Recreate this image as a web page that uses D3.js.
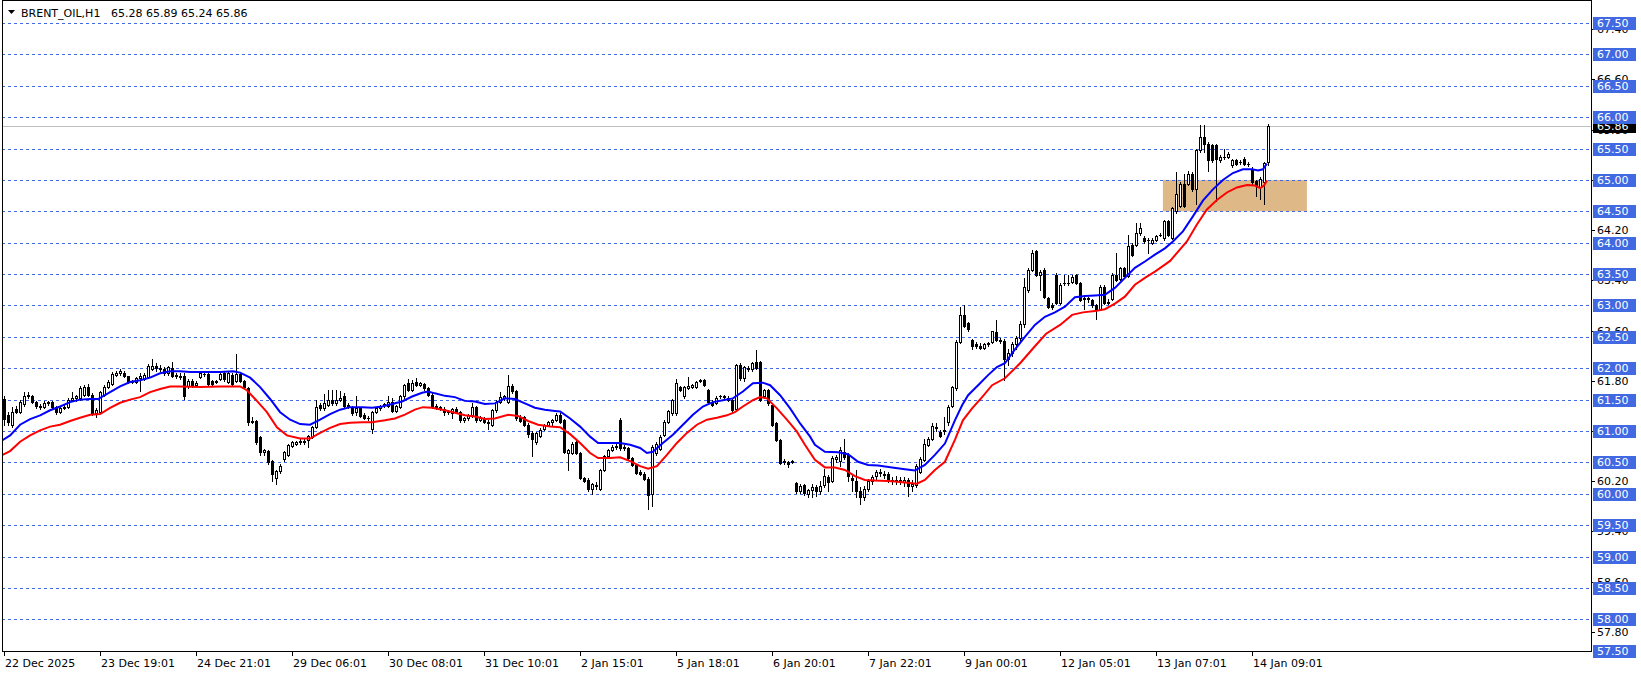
<!DOCTYPE html>
<html><head><meta charset="utf-8">
<script src="https://cdn.jsdelivr.net/npm/d3@7"></script>
<style>
html,body{margin:0;padding:0;background:#fff;}
svg{display:block;}
text{font-family:"DejaVu Sans",sans-serif;font-size:11px;}
</style></head><body>
<svg id="chart" width="1641" height="675"></svg>
<script>
// ---------------- DATA ----------------
const symbolName = "BRENT_OIL,H1";
const lastOHLC = ["65.28", "65.89", "65.24", "65.86"];
const lastPrice = 65.86;

const opens = [
61.51,61.25,61.09,61.35,61.30,61.43,61.58,61.55,61.46,61.40,
61.38,61.45,61.46,61.38,61.30,61.37,61.39,61.50,61.52,61.52,
61.58,61.70,61.57,61.28,61.30,61.58,61.70,61.75,61.90,61.92,
61.93,61.87,61.80,61.78,61.84,61.83,61.86,61.99,62.04,62.00,
61.99,61.92,62.00,61.90,61.88,61.88,61.72,61.80,61.74,61.86,
61.91,61.91,61.80,61.78,61.83,61.93,61.78,61.90,61.80,61.91,
61.80,61.68,61.14,61.16,60.90,60.66,60.68,60.52,60.25,60.36,
60.55,60.62,60.76,60.80,60.82,60.84,60.86,60.91,61.07,61.41,
61.36,61.42,61.50,61.44,61.50,61.55,61.42,61.38,61.30,61.36,
61.26,61.21,61.03,61.30,61.36,61.41,61.40,61.47,61.32,61.38,
61.55,61.76,61.66,61.78,61.74,61.75,61.68,61.58,61.40,61.37,
61.35,61.30,61.28,61.35,61.30,61.17,61.20,61.25,61.38,61.18,
61.20,61.15,61.10,61.33,61.47,61.53,61.47,61.72,61.63,61.22,
61.22,61.10,60.97,60.82,60.92,61.03,61.10,61.14,61.18,61.26,
61.17,60.65,60.65,60.83,60.65,60.25,60.22,60.08,60.14,60.08,
60.38,60.60,60.70,60.75,61.18,60.75,60.73,60.57,60.46,60.35,
60.32,60.24,60.00,60.65,60.72,60.94,61.15,61.28,61.28,61.70,
61.55,61.69,61.70,61.70,61.80,61.81,61.65,61.47,61.45,61.55,
61.54,61.52,61.50,61.35,62.05,61.84,62.00,61.98,62.10,62.10,
61.55,61.65,61.41,61.12,60.86,60.50,60.50,60.52,60.17,60.04,
60.14,60.00,60.06,60.10,60.05,60.14,60.26,60.20,60.55,60.52,
60.67,60.62,60.25,60.20,60.05,59.95,60.08,60.20,60.28,60.35,
60.30,60.32,60.22,60.21,60.22,60.18,60.22,60.12,60.14,60.35,
60.54,60.78,60.87,61.04,60.99,61.00,61.15,61.40,61.68,62.42,
62.85,62.72,62.45,62.38,62.36,62.33,62.38,62.42,62.58,62.44,
62.44,62.15,62.25,62.38,62.48,62.70,63.25,63.57,63.86,63.48,
63.57,63.12,63.00,63.49,63.04,63.35,63.36,63.38,63.48,63.36,
63.10,63.10,63.08,63.00,62.95,63.30,63.06,63.10,63.49,63.42,
63.60,63.47,63.97,63.97,64.15,64.07,64.04,64.00,64.05,64.13,
64.07,64.34,64.08,64.50,64.59,64.94,64.94,65.10,64.85,65.47,
65.69,65.58,65.55,65.55,65.31,65.37,65.37,65.23,65.32,65.28,
65.34,65.26,65.18,64.98,64.88,64.96,65.28];

const highs = [
61.55,61.30,61.38,61.40,61.50,61.62,61.62,61.58,61.48,61.43,
61.48,61.48,61.48,61.40,61.40,61.42,61.52,61.62,61.58,61.72,
61.74,61.75,61.60,61.36,61.64,61.74,61.82,61.94,61.96,61.98,
61.96,61.88,61.82,61.86,61.92,61.92,62.06,62.15,62.08,62.05,
62.02,62.04,62.10,61.92,61.92,61.92,61.83,61.83,61.80,61.96,
61.95,61.93,61.82,61.82,61.93,61.95,61.95,61.93,62.22,61.93,
61.82,61.70,61.22,61.18,60.92,60.72,60.70,60.54,60.38,60.48,
60.68,60.80,60.84,60.84,60.88,60.88,60.94,61.08,61.49,61.44,
61.59,61.65,61.66,61.66,61.63,61.60,61.44,61.40,61.55,61.38,
61.28,61.24,61.32,61.38,61.42,61.45,61.55,61.52,61.42,61.57,
61.75,61.83,61.82,61.85,61.78,61.77,61.70,61.60,61.43,61.40,
61.39,61.34,61.37,61.38,61.32,61.22,61.27,61.45,61.40,61.24,
61.22,61.18,61.35,61.49,61.62,61.58,61.89,61.75,61.66,61.26,
61.24,61.12,61.00,60.99,61.04,61.11,61.16,61.19,61.28,61.28,
61.19,60.72,60.83,60.86,60.67,60.27,60.25,60.17,60.18,60.40,
60.62,60.72,60.77,60.79,61.20,60.78,60.75,60.59,60.48,60.38,
60.34,60.26,60.78,60.82,60.93,61.17,61.34,61.51,61.83,61.72,
61.72,61.86,61.75,61.80,61.83,61.83,61.67,61.49,61.55,61.58,
61.57,61.55,61.52,62.07,62.08,62.04,62.04,62.10,62.29,62.12,
61.67,61.67,61.43,61.14,60.88,60.55,60.52,60.54,60.19,60.15,
60.16,60.08,60.15,60.14,60.20,60.40,60.30,60.60,60.62,60.75,
60.88,60.65,60.30,60.38,60.10,60.12,60.24,60.30,60.38,60.40,
60.36,60.34,60.26,60.28,60.26,60.26,60.25,60.22,60.48,60.58,
60.88,60.90,61.12,61.12,61.02,61.23,61.41,61.72,62.45,62.98,
63.00,62.74,62.47,62.42,62.40,62.40,62.42,62.60,62.77,62.48,
62.46,62.30,62.42,62.52,62.75,63.44,63.60,63.89,63.88,63.56,
63.59,63.14,63.04,63.52,63.36,63.49,63.48,63.48,63.50,63.38,
63.14,63.14,63.10,63.02,63.32,63.32,63.10,63.51,63.83,63.62,
63.62,64.13,64.00,64.31,64.32,64.10,64.08,64.08,64.12,64.16,
64.36,64.36,64.57,65.12,64.96,65.10,65.15,65.12,65.49,65.88,
65.88,65.60,65.57,65.57,65.39,65.50,65.44,65.34,65.34,65.31,
65.36,65.29,65.20,65.00,65.04,65.29,65.89];

const lows = [
61.10,61.10,61.06,61.28,61.28,61.40,61.53,61.44,61.36,61.35,
61.36,61.42,61.36,61.27,61.28,61.35,61.37,61.48,61.48,61.50,
61.55,61.55,61.25,61.22,61.28,61.55,61.68,61.73,61.87,61.90,
61.86,61.76,61.76,61.76,61.64,61.81,61.84,61.97,61.96,61.96,
61.90,61.90,61.86,61.85,61.83,61.51,61.68,61.70,61.72,61.84,
61.88,61.73,61.72,61.76,61.82,61.80,61.76,61.73,61.78,61.78,
61.68,61.10,61.12,60.80,60.62,60.62,60.48,60.20,60.16,60.33,
60.52,60.60,60.74,60.78,60.80,60.80,60.74,60.89,61.05,61.33,
61.34,61.40,61.42,61.42,61.48,61.38,61.36,61.26,61.26,61.22,
61.19,61.18,60.97,61.28,61.34,61.39,61.38,61.30,61.30,61.36,
61.53,61.64,61.64,61.71,61.72,61.66,61.55,61.37,61.35,61.34,
61.26,61.27,61.20,61.28,61.15,61.15,61.18,61.23,61.15,61.16,
61.13,61.03,61.08,61.31,61.45,61.50,61.45,61.60,61.18,61.14,
61.08,60.90,60.60,60.80,60.90,61.01,61.08,61.10,61.16,61.13,
60.65,60.38,60.63,60.63,60.23,60.18,60.05,60.00,60.08,60.06,
60.36,60.58,60.68,60.72,60.70,60.70,60.55,60.44,60.31,60.30,
60.22,59.75,59.80,60.62,60.70,60.92,61.13,61.26,61.25,61.63,
61.53,61.67,61.68,61.68,61.78,61.71,61.45,61.40,61.43,61.53,
61.52,61.48,61.30,61.32,61.82,61.80,61.96,61.96,61.98,61.48,
61.53,61.42,61.08,60.84,60.47,60.48,60.42,60.49,60.02,60.02,
59.98,59.95,59.95,59.96,60.00,60.10,60.05,60.18,60.50,60.45,
60.55,60.20,60.05,59.95,59.83,59.90,60.04,60.16,60.22,60.28,
60.25,60.18,60.15,60.16,60.15,60.12,59.97,60.05,60.10,60.33,
60.52,60.76,60.85,61.00,60.90,60.96,61.10,61.38,61.66,62.40,
62.66,62.60,62.30,62.32,62.30,62.31,62.36,62.40,62.43,62.40,
61.81,62.05,62.20,62.30,62.44,62.66,63.22,63.55,63.47,63.25,
63.12,62.96,62.95,63.02,63.02,63.33,63.33,63.36,63.34,63.07,
62.95,63.06,62.98,62.78,62.92,63.02,63.02,63.08,63.39,63.40,
63.45,63.45,63.79,63.95,64.13,64.00,63.83,63.98,64.03,64.10,
64.05,64.10,64.06,64.48,64.57,64.57,64.92,64.83,64.61,65.45,
65.45,65.15,65.29,64.67,65.29,65.34,65.35,65.21,65.23,65.26,
65.24,65.22,64.94,64.75,64.69,64.61,65.24];

const closes = [
61.19,61.14,61.30,61.30,61.46,61.56,61.55,61.46,61.40,61.38,
61.45,61.46,61.38,61.30,61.37,61.39,61.50,61.53,61.56,61.68,
61.70,61.57,61.28,61.33,61.62,61.70,61.78,61.91,61.92,61.95,
61.88,61.78,61.78,61.84,61.88,61.90,62.04,62.04,62.00,61.99,
61.92,62.02,61.88,61.88,61.86,61.56,61.80,61.72,61.76,61.92,
61.91,61.75,61.75,61.80,61.91,61.83,61.93,61.75,61.91,61.80,
61.70,61.14,61.16,60.82,60.66,60.70,60.50,60.32,60.36,60.45,
60.66,60.77,60.82,60.82,60.84,60.83,60.92,61.07,61.39,61.36,
61.44,61.50,61.45,61.50,61.52,61.40,61.38,61.28,61.36,61.24,
61.21,61.20,61.30,61.36,61.40,61.43,61.47,61.32,61.40,61.55,
61.73,61.66,61.76,61.73,61.76,61.68,61.57,61.39,61.37,61.38,
61.30,61.32,61.35,61.30,61.17,61.20,61.25,61.38,61.17,61.22,
61.15,61.13,61.33,61.47,61.54,61.56,61.72,61.63,61.20,61.16,
61.10,60.96,60.88,60.97,61.02,61.09,61.14,61.17,61.26,61.15,
60.67,60.70,60.80,60.65,60.25,60.20,60.08,60.15,60.12,60.38,
60.60,60.70,60.75,60.76,60.73,60.73,60.57,60.46,60.33,60.32,
60.24,59.98,60.75,60.80,60.91,61.15,61.32,61.49,61.76,61.65,
61.70,61.71,61.73,61.78,61.81,61.73,61.47,61.42,61.53,61.56,
61.55,61.50,61.34,62.05,61.84,62.02,61.99,62.08,62.00,61.50,
61.65,61.44,61.10,60.86,60.49,60.52,60.47,60.51,60.04,60.13,
60.01,60.06,60.10,60.05,60.12,60.28,60.18,60.57,60.58,60.70,
60.59,60.28,60.22,60.05,59.95,60.08,60.20,60.26,60.35,60.33,
60.32,60.22,60.21,60.22,60.20,60.22,60.12,60.15,60.44,60.55,
60.80,60.87,61.08,61.07,60.92,61.02,61.39,61.70,62.42,62.85,
62.68,62.63,62.36,62.36,62.33,62.38,62.40,62.59,62.45,62.45,
62.15,62.25,62.38,62.48,62.70,63.30,63.57,63.84,63.49,63.53,
63.14,62.98,62.98,63.04,63.33,63.36,63.36,63.46,63.36,63.09,
63.12,63.12,63.00,62.93,63.30,63.04,63.04,63.49,63.41,63.60,
63.47,63.94,63.81,64.15,64.23,64.02,64.05,64.05,64.10,64.12,
64.34,64.12,64.55,64.77,64.94,64.59,65.10,64.85,65.47,65.69,
65.58,65.31,65.31,65.34,65.37,65.36,65.42,65.32,65.25,65.28,
65.26,65.25,64.96,64.91,65.02,65.27,65.86];

// moving average lines (bar position, price)
const blueBars = [-0.9,1.6,4.1,6.6,9.1,11.6,14.1,16.6,19.1,21.6,23.6,26.6,29.1,31.6,34.1,36.6,39.1,41.6,44.1,46.6,49.1,54.1,57.3,59.1,61.6,64.1,66.6,69.1,71.6,74.1,76.6,79.1,81.6,84.1,86.6,89.6,92.1,94.6,97.1,99.6,102.1,104.6,106.1,107.8,110.3,112.8,115.3,117.8,120.3,122.8,125.3,127.8,130.3,132.8,135.3,137.8,139.1,141.6,144.1,146.6,148.6,151.6,154.1,156.6,159.1,160.8,162.3,164.8,167.3,169.8,172.3,174.8,177.3,179.8,182.3,184.8,187.3,189.8,191.6,194.1,196.6,199.1,201.6,202.8,205.3,208.6,211.1,213.6,216.1,218.6,222.1,225.3,227.8,230.3,232.8,235.3,237.8,239.6,241.1,243.6,246.1,248.3,250.3,252.8,255.3,257.8,260.3,262.8,265.3,267.8,270.3,272.8,275.3,277.8,280.3,282.8,285.3,287.8,290.3,292.3,294.8,297.3,299.8,302.3,304.8,307.3,309.8,312.1,313.6,314.8,315.8];
const blueVals = [60.83,60.93,61.10,61.19,61.25,61.33,61.39,61.46,61.50,61.51,61.51,61.62,61.71,61.78,61.81,61.85,61.92,61.95,61.95,61.94,61.94,61.94,61.95,61.93,61.85,61.70,61.51,61.30,61.18,61.11,61.10,61.18,61.27,61.34,61.38,61.38,61.37,61.39,61.43,61.47,61.55,61.61,61.63,61.60,61.56,61.54,61.48,61.47,61.43,61.44,61.52,61.51,61.44,61.37,61.34,61.32,61.31,61.20,61.07,60.91,60.81,60.81,60.81,60.78,60.73,60.65,60.67,60.81,60.94,61.10,61.26,61.39,61.46,61.49,61.52,61.63,61.76,61.77,61.73,61.57,61.36,61.12,60.91,60.78,60.67,60.66,60.63,60.51,60.46,60.45,60.42,60.39,60.37,60.46,60.62,60.80,61.17,61.41,61.57,61.73,61.89,62.02,62.08,62.30,62.50,62.69,62.82,62.89,62.98,63.13,63.15,63.16,63.17,63.28,63.44,63.60,63.70,63.81,63.91,64.02,64.18,64.42,64.67,64.85,65.00,65.11,65.17,65.17,65.15,65.17,65.26];
const redBars = [-0.9,1.6,4.1,6.6,9.1,11.6,14.1,16.6,19.1,21.6,24.1,26.6,29.1,31.6,34.1,36.6,39.1,41.6,44.1,49.1,54.1,59.1,60.8,63.3,65.8,68.3,70.8,74.1,76.6,79.1,81.6,84.1,86.6,89.6,92.1,95.3,97.8,100.3,102.8,104.8,107.1,110.3,112.8,115.3,117.8,120.3,122.8,126.1,128.6,131.1,133.6,136.6,139.1,141.6,144.1,146.6,148.6,151.6,154.1,156.6,159.1,161.1,163.3,165.8,168.3,170.8,173.3,175.8,178.3,180.8,182.8,184.8,187.3,189.1,190.8,193.3,195.8,198.3,200.3,202.8,205.3,207.8,210.3,212.8,215.3,217.8,222.1,225.3,228.3,230.3,232.8,235.3,237.8,239.8,242.1,244.6,247.1,250.3,254.1,257.8,260.6,264.1,267.1,269.8,272.8,275.3,277.8,280.3,282.8,285.3,287.8,290.3,291.6,295.8,298.3,300.8,303.3,305.8,308.3,310.8,312.8,314.1,315.1,315.8];
const redVals = [60.60,60.68,60.83,60.93,61.01,61.07,61.10,61.16,61.21,61.26,61.27,61.37,61.45,61.50,61.54,61.62,61.67,61.71,61.71,61.70,61.71,61.71,61.65,61.48,61.30,61.06,60.93,60.88,60.88,60.97,61.05,61.11,61.13,61.14,61.14,61.17,61.20,61.26,61.34,61.38,61.37,61.33,61.29,61.25,61.23,61.19,61.20,61.26,61.24,61.16,61.10,61.07,61.06,60.95,60.81,60.65,60.57,60.57,60.58,60.52,60.44,60.40,60.44,60.62,60.81,60.97,61.10,61.18,61.21,61.25,61.30,61.39,61.49,61.54,61.52,61.36,61.18,60.99,60.78,60.54,60.42,60.42,60.38,60.28,60.22,60.21,60.20,60.18,60.16,60.22,60.38,60.51,60.86,61.17,61.36,61.54,61.73,61.84,62.08,62.35,62.55,62.69,62.85,62.89,62.91,62.94,63.03,63.14,63.33,63.44,63.54,63.65,63.71,64.02,64.29,64.53,64.68,64.80,64.88,64.92,64.91,64.87,64.91,64.99];

// axes
const xTickBars = [0,24,48,72,96,120,144,168,192,216,240,264,288,312];
const xTickLabels = ["22 Dec 2025","23 Dec 19:01","24 Dec 21:01","29 Dec 06:01","30 Dec 08:01","31 Dec 10:01","2 Jan 15:01","5 Jan 18:01","6 Jan 20:01","7 Jan 22:01","9 Jan 00:01","12 Jan 05:01","13 Jan 07:01","14 Jan 09:01"];
const gridLevels = [67.5,67.0,66.5,66.0,65.5,65.0,64.5,64.0,63.5,63.0,62.5,62.0,61.5,61.0,60.5,60.0,59.5,59.0,58.5,58.0,57.5];
const scaleTicks = [67.4,66.6,65.8,65.0,64.2,63.4,62.6,61.8,61.0,60.2,59.4,58.6,57.8];
// highlighted zone (bar range, price range)
const zoneBars = [289.8, 325.8];
const zonePrices = [64.5, 65.0];

// ---------------- DRAW ----------------
const W = 1641, H = 675;
const L = 2, R = 1591, T = 0, B = 651;
const svg = d3.select("#chart");

const x = d3.scaleLinear().domain([0, 312]).range([3.7, 1251.7]);
const y = d3.scaleLinear().domain([57.5, 67.5]).range([650.7, 23]);
const py = v => Math.round(y(v));

svg.append("defs").append("clipPath").attr("id","plot")
  .append("rect").attr("x", L+1).attr("y", T+1).attr("width", R-L-1).attr("height", B-T-1);

const plot = svg.append("g").attr("clip-path","url(#plot)");

// zone
plot.append("rect")
  .attr("x", x(zoneBars[0])).attr("width", x(zoneBars[1]) - x(zoneBars[0]))
  .attr("y", y(zonePrices[1])).attr("height", y(zonePrices[0]) - y(zonePrices[1]))
  .attr("fill", "#DEB887");

// grid
plot.selectAll("line.grid").data(gridLevels).join("line")
  .attr("class","grid")
  .attr("x1", L).attr("x2", R)
  .attr("y1", d => py(d) + 0.5).attr("y2", d => py(d) + 0.5)
  .attr("stroke", "#4169E1").attr("stroke-width", 1)
  .attr("stroke-dasharray", "3,3").attr("shape-rendering","crispEdges");

// current price line
plot.append("line")
  .attr("x1", L).attr("x2", R)
  .attr("y1", py(lastPrice) + 0.5).attr("y2", py(lastPrice) + 0.5)
  .attr("stroke", "#C0C0C0").attr("stroke-width", 1).attr("shape-rendering","crispEdges");

// candles
const idx = d3.range(closes.length);
const cg = plot.append("g").attr("shape-rendering","crispEdges");
idx.forEach(i => {
  const cx = Math.round(x(i));
  const o = opens[i], c = closes[i], h = highs[i], l = lows[i];
  cg.append("line")
    .attr("x1", cx + 0.5).attr("x2", cx + 0.5)
    .attr("y1", py(h)).attr("y2", py(l) + 1)
    .attr("stroke", "#000").attr("stroke-width", 1);
  const top = py(Math.max(o, c)), bot = py(Math.min(o, c));
  if (c < o) {
    cg.append("rect").attr("x", cx - 1).attr("y", top)
      .attr("width", 3).attr("height", Math.max(1, bot - top + 1)).attr("fill", "#000");
  } else if (bot - top < 2) {
    cg.append("rect").attr("x", cx - 1).attr("y", top)
      .attr("width", 3).attr("height", Math.max(1, bot - top + 1)).attr("fill", "#000");
  } else {
    cg.append("rect").attr("x", cx - 0.5).attr("y", top + 0.5)
      .attr("width", 2).attr("height", bot - top)
      .attr("fill", "#fff").attr("stroke", "#000").attr("stroke-width", 1);
  }
});

// moving averages
const line = d3.line().x(d => x(d[0])).y(d => y(d[1]));
plot.append("path").datum(d3.zip(blueBars, blueVals))
  .attr("d", line).attr("fill","none").attr("stroke","#0000FF").attr("stroke-width",2);
plot.append("path").datum(d3.zip(redBars, redVals))
  .attr("d", line).attr("fill","none").attr("stroke","#FF0000").attr("stroke-width",2);

// border
svg.append("rect").attr("x", L + 0.5).attr("y", T + 0.5)
  .attr("width", R - L).attr("height", B - T)
  .attr("fill","none").attr("stroke","#000").attr("stroke-width",1)
  .attr("shape-rendering","crispEdges");

// right scale: small ticks + black labels
const ax = svg.append("g").attr("shape-rendering","crispEdges");
ax.selectAll("line.t").data(scaleTicks).join("line")
  .attr("x1", R).attr("x2", R + 4)
  .attr("y1", d => py(d) + 0.5).attr("y2", d => py(d) + 0.5)
  .attr("stroke","#000");
svg.selectAll("text.t").data(scaleTicks).join("text")
  .attr("x", R + 6).attr("y", d => py(d) + 4)
  .attr("fill","#000").text(d => d.toFixed(2));

// current price label (black)
svg.append("rect").attr("x", R + 2).attr("y", py(lastPrice) - 6)
  .attr("width", 43).attr("height", 13).attr("fill","#000");
svg.append("text").attr("x", R + 6).attr("y", py(lastPrice) + 4)
  .attr("fill","#fff").text(lastPrice.toFixed(2));

// blue level labels
const lv = svg.selectAll("g.lv").data(gridLevels).join("g").attr("class","lv");
lv.append("rect").attr("x", R + 2).attr("y", d => py(d) - 6)
  .attr("width", 43).attr("height", 13).attr("fill","#4169E1")
  .attr("shape-rendering","crispEdges");
lv.append("text").attr("x", R + 6).attr("y", d => py(d) + 4)
  .attr("fill","#fff").text(d => d.toFixed(2));

// x axis
const xg = svg.append("g");
xg.selectAll("line").data(xTickBars).join("line")
  .attr("x1", d => Math.round(x(d)) + 0.5).attr("x2", d => Math.round(x(d)) + 0.5)
  .attr("y1", B).attr("y2", B + 5)
  .attr("stroke","#000").attr("shape-rendering","crispEdges");
xg.selectAll("text").data(xTickBars).join("text")
  .attr("x", d => Math.round(x(d)) + 1).attr("y", B + 16)
  .attr("fill","#000").text((d, i) => xTickLabels[i]);

// title
svg.append("path").attr("d","M8,10 L15,10 L11.5,14 Z").attr("fill","#000");
svg.append("text").attr("x", 21).attr("y", 17).attr("fill","#000").text(symbolName);
svg.append("text").attr("x", 111).attr("y", 17).attr("fill","#000").text(lastOHLC.join(" "));
</script>
</body></html>
